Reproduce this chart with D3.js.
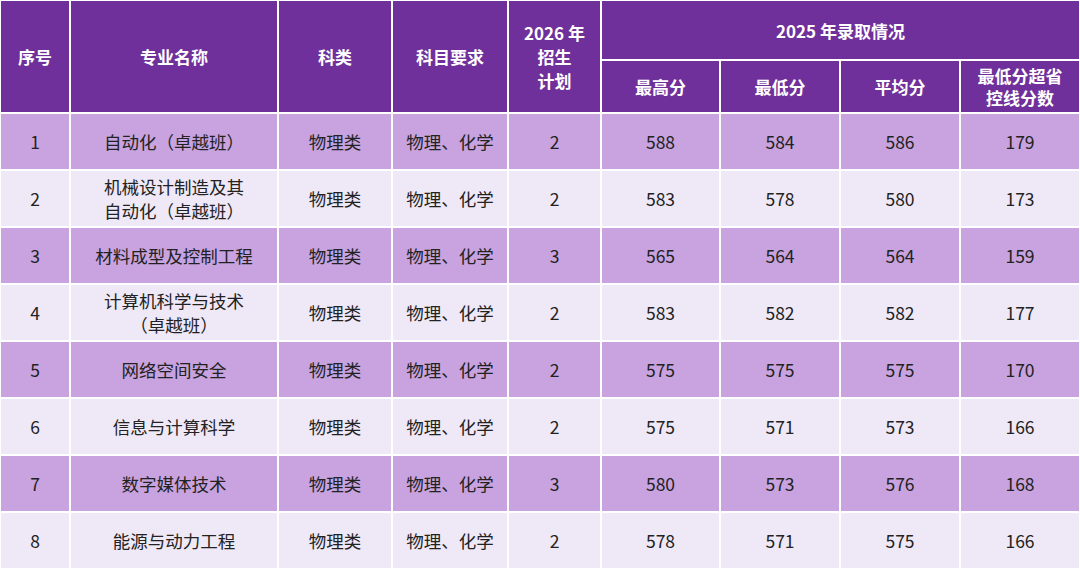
<!DOCTYPE html>
<html><head><meta charset="utf-8">
<script src="https://cdn.jsdelivr.net/npm/d3@7"></script>
<style>body{margin:0;background:#fff}svg{display:block}</style>
</head><body>
<svg id="chart" width="1080" height="569"></svg>
<script>
// table data
var ids = ['1', '2', '3', '4', '5', '6', '7', '8'];
var majors = [['自动化（卓越班）'], ['机械设计制造及其', '自动化（卓越班）'], ['材料成型及控制工程'],
    ['计算机科学与技术', '（卓越班）'], ['网络空间安全'], ['信息与计算科学'], ['数字媒体技术'], ['能源与动力工程']];
var kinds = ['物理类', '物理类', '物理类', '物理类', '物理类', '物理类', '物理类', '物理类'];
var subjects = ['物理、化学', '物理、化学', '物理、化学', '物理、化学', '物理、化学', '物理、化学', '物理、化学', '物理、化学'];
var plan2026 = [2, 2, 3, 2, 2, 2, 3, 2];
var maxScore = [588, 583, 565, 583, 575, 575, 580, 578];
var minScore = [584, 578, 564, 582, 575, 571, 573, 571];
var avgScore = [586, 580, 564, 582, 575, 573, 576, 575];
var overLine = [179, 173, 159, 177, 170, 166, 168, 166];

var topHeaders = [['序号'], ['专业名称'], ['科类'], ['科目要求'], ['2026 年', '招生', '计划']];
var groupHeader = '2025 年录取情况';
var subHeaders = [['最高分'], ['最低分'], ['平均分'], ['最低分超省', '控线分数']];

var colEdges = [0, 70, 278, 392, 508, 601, 720, 840, 960, 1080];
var svg = d3.select('#chart');
var headH = 113, midH = 60;
var y = d3.scaleBand().domain(ids).range([headH, 569]);

function cell(x0, x1, y0, y1, fill, lines, opts) {
    svg.append('rect').attr('x', x0).attr('y', y0).attr('width', x1 - x0).attr('height', y1 - y0)
        .attr('fill', fill).attr('stroke', '#fff').attr('stroke-width', 2);
    var lh = opts.lh, cy = (y0 + y1) / 2 - (lines.length - 1) * lh / 2;
    lines.forEach(function(t, i) {
        svg.append('text').attr('x', (x0 + x1) / 2).attr('y', cy + i * lh)
            .attr('text-anchor', 'middle').attr('dominant-baseline', 'central')
            .attr('font-family', '"Noto Sans CJK SC", sans-serif')
            .attr('font-size', opts.size).attr('font-weight', opts.bold ? 700 : 400)
            .attr('fill', opts.color).text(t);
    });
}

var head = '#70309b';
var hOpts = {size: 17, bold: true, color: '#fff', lh: 24};
topHeaders.forEach(function(h, i) { cell(colEdges[i], colEdges[i + 1], 0, headH, head, h, hOpts); });
cell(colEdges[5], colEdges[9], 0, midH, head, [groupHeader], hOpts);
subHeaders.forEach(function(h, i) { cell(colEdges[5 + i], colEdges[6 + i], midH, headH, head, h, {size: 17, bold: true, color: '#fff', lh: 22}); });

var bOpts = {size: 17.5, bold: false, color: '#222', lh: 24};
ids.forEach(function(id, r) {
    var fill = r % 2 === 0 ? '#c8a3e0' : '#efe8f6';
    var y0 = y(id), y1 = y0 + y.bandwidth();
    var vals = [[id], majors[r], [kinds[r]], [subjects[r]], [String(plan2026[r])],
        [String(maxScore[r])], [String(minScore[r])], [String(avgScore[r])], [String(overLine[r])]];
    vals.forEach(function(v, c) { cell(colEdges[c], colEdges[c + 1], y0, y1, fill, v, bOpts); });
});
</script>
</body></html>
